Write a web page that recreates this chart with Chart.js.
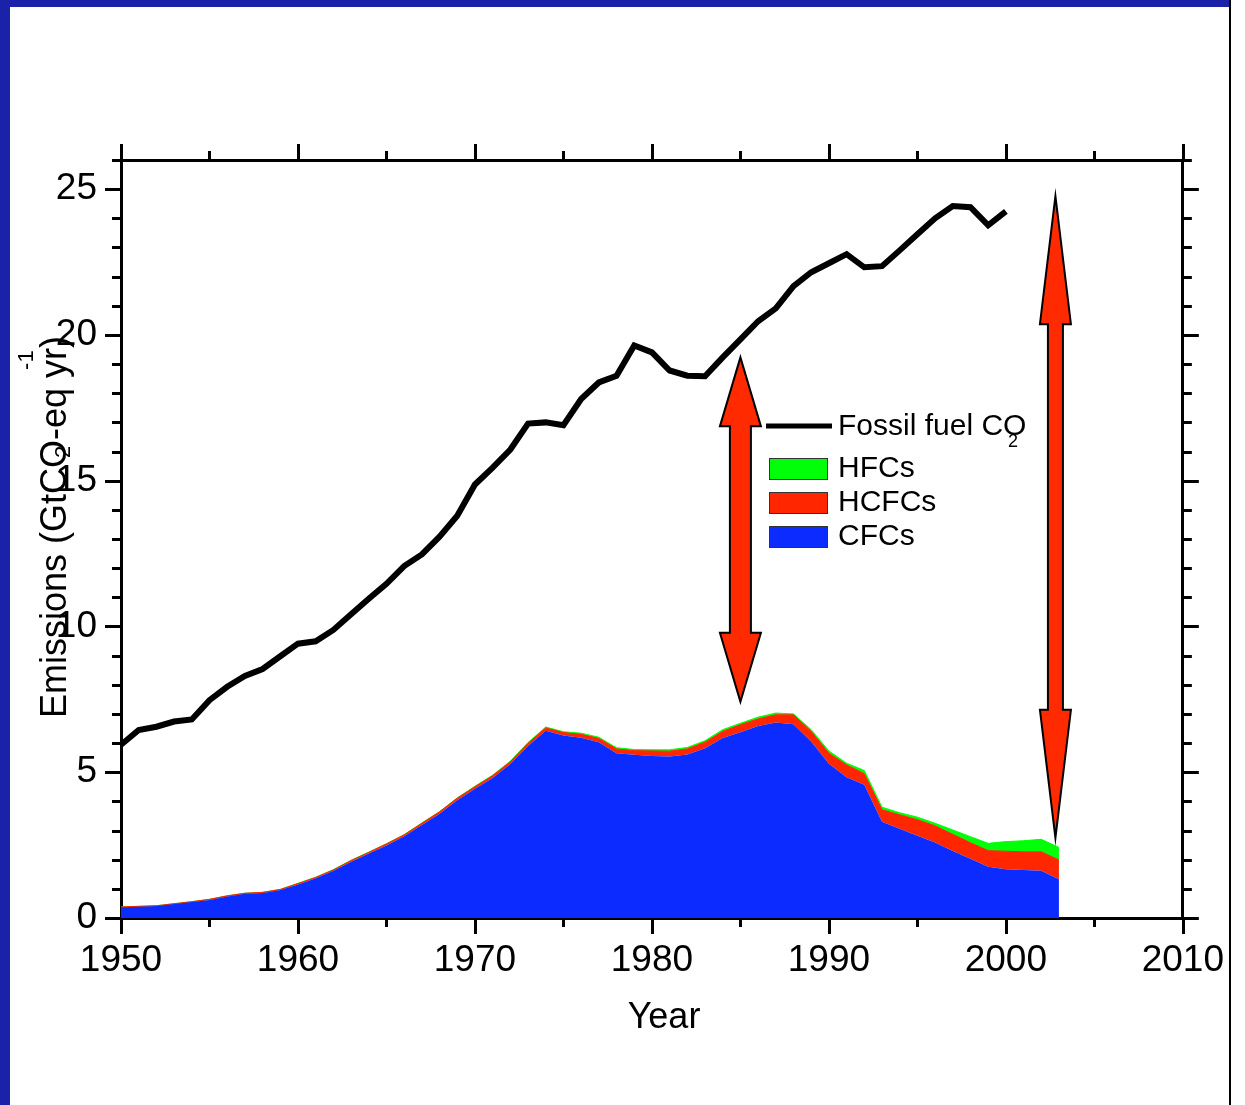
<!DOCTYPE html>
<html>
<head>
<meta charset="utf-8">
<script src="https://cdn.jsdelivr.net/npm/chart.js@4.4.1/dist/chart.umd.min.js"></script>
<style>
  html, body { margin: 0; padding: 0; background: #fff; }
  #wrap { position: relative; width: 1245px; height: 1105px; overflow: hidden; }
  .strip { position: absolute; background: #1b22aa; }
  #c { position: absolute; left: 0; top: 0; }
</style>
</head>
<body>
<div id="wrap">
  <div class="strip" style="left:0;top:0;width:10px;height:1105px;"></div>
  <div class="strip" style="left:0;top:0;width:1231px;height:7px;"></div>
  <div style="position:absolute;left:1229px;top:0;width:2px;height:1105px;background:#000;"></div>
  <canvas id="c" width="1245" height="1105"></canvas>
</div>
<script>
// Years of the stacked halocarbon areas (CO2 stops in 2000)
const years = [1950, 1951, 1952, 1953, 1954, 1955, 1956, 1957, 1958, 1959,
  1960, 1961, 1962, 1963, 1964, 1965, 1966, 1967, 1968, 1969,
  1970, 1971, 1972, 1973, 1974, 1975, 1976, 1977, 1978, 1979,
  1980, 1981, 1982, 1983, 1984, 1985, 1986, 1987, 1988, 1989,
  1990, 1991, 1992, 1993, 1994, 1995, 1996, 1997, 1998, 1999,
  2000, 2001, 2002, 2003];

// Fossil fuel CO2, GtCO2-eq/yr, 1950-2000
const co2 = [5.94, 6.45, 6.56, 6.74, 6.81, 7.47, 7.93, 8.30, 8.54, 8.98,
  9.41, 9.49, 9.88, 10.42, 10.95, 11.46, 12.07, 12.47, 13.08, 13.80,
  14.87, 15.45, 16.07, 16.96, 17.00, 16.90, 17.80, 18.37, 18.60, 19.64,
  19.40, 18.78, 18.60, 18.58, 19.23, 19.85, 20.47, 20.91, 21.67, 22.15,
  22.46, 22.77, 22.32, 22.36, 22.90, 23.45, 24.00, 24.42, 24.38, 23.76,
  24.24];

// Layers (not cumulative), 1950-2003
const cfc = [0.37, 0.39, 0.41, 0.48, 0.55, 0.62, 0.74, 0.83, 0.86, 0.96,
  1.15, 1.36, 1.62, 1.93, 2.21, 2.49, 2.80, 3.19, 3.58, 4.04,
  4.43, 4.80, 5.28, 5.90, 6.42, 6.26, 6.18, 6.03, 5.65, 5.60,
  5.56, 5.54, 5.61, 5.82, 6.17, 6.37, 6.59, 6.71, 6.65, 6.05,
  5.29, 4.83, 4.57, 3.30, 3.06, 2.82, 2.59, 2.30, 2.03, 1.76,
  1.67, 1.65, 1.62, 1.33];
const hcfc = [0.01, 0.01, 0.01, 0.01, 0.01, 0.02, 0.02, 0.02, 0.02, 0.02,
  0.03, 0.03, 0.03, 0.04, 0.04, 0.05, 0.05, 0.06, 0.06, 0.07,
  0.07, 0.08, 0.08, 0.09, 0.10, 0.10, 0.12, 0.13, 0.15, 0.14,
  0.17, 0.18, 0.19, 0.21, 0.23, 0.26, 0.24, 0.26, 0.32, 0.35,
  0.36, 0.42, 0.38, 0.41, 0.48, 0.55, 0.57, 0.57, 0.55, 0.55,
  0.62, 0.62, 0.65, 0.66];
const hfc = [0.00, 0.00, 0.00, 0.00, 0.00, 0.00, 0.00, 0.00, 0.00, 0.00,
  0.01, 0.01, 0.01, 0.01, 0.01, 0.01, 0.01, 0.01, 0.01, 0.01,
  0.02, 0.02, 0.02, 0.03, 0.03, 0.03, 0.04, 0.04, 0.04, 0.04,
  0.04, 0.05, 0.05, 0.05, 0.06, 0.05, 0.06, 0.06, 0.03, 0.06,
  0.08, 0.06, 0.11, 0.09, 0.07, 0.09, 0.09, 0.15, 0.21, 0.25,
  0.33, 0.38, 0.43, 0.43];

// Axis ticks
const xTicks = [1950, 1960, 1970, 1980, 1990, 2000, 2010];
const xMinorTicks = [1955, 1965, 1975, 1985, 1995, 2005];
const yTicks = [0, 5, 10, 15, 20, 25];
const yMinorTicks = [1, 2, 3, 4, 6, 7, 8, 9, 11, 12, 13, 14, 16, 17, 18, 19,
  21, 22, 23, 24, 26];

// Double-headed arrows: year, lower tip, upper tip
const arrowYears = [1985, 2002.8];
const arrowLow = [7.42, 2.75];
const arrowHigh = [19.23, 24.76];

const FONT = '"Liberation Sans", Arial, sans-serif';
const arrowStyles = [
  { shaft: 21, head: 41, headLen: 69 },
  { shaft: 15, head: 31, headLen: 128 }
];

function pts(vals) {
  return vals.map((v, i) => ({ x: years[i], y: v }));
}

function drawArrow(ctx, x, yTop, yBot, st) {
  const hw = st.head / 2, sw = st.shaft / 2, hl = st.headLen;
  ctx.beginPath();
  ctx.moveTo(x, yTop);
  ctx.lineTo(x + hw, yTop + hl);
  ctx.lineTo(x + sw, yTop + hl);
  ctx.lineTo(x + sw, yBot - hl);
  ctx.lineTo(x + hw, yBot - hl);
  ctx.lineTo(x, yBot);
  ctx.lineTo(x - hw, yBot - hl);
  ctx.lineTo(x - sw, yBot - hl);
  ctx.lineTo(x - sw, yTop + hl);
  ctx.lineTo(x - hw, yTop + hl);
  ctx.closePath();
  ctx.fillStyle = "#ff2a00";
  ctx.fill();
  ctx.lineWidth = 2;
  ctx.lineJoin = "miter";
  ctx.strokeStyle = "#000";
  ctx.stroke();
}

const decor = {
  id: "decor",
  afterDraw(chart) {
    const ctx = chart.ctx;
    const xs = chart.scales.x, ys = chart.scales.y;
    const a = chart.chartArea;
    ctx.save();

    // tick marks on all four sides, pointing outward
    ctx.strokeStyle = "#000";
    ctx.lineWidth = 3;
    ctx.beginPath();
    const tickX = (v, len) => {
      const px = Math.round(xs.getPixelForValue(v)) + 0.5;
      ctx.moveTo(px, a.bottom); ctx.lineTo(px, a.bottom + len);
      ctx.moveTo(px, a.top); ctx.lineTo(px, a.top - len);
    };
    const tickY = (v, len) => {
      const py = Math.round(ys.getPixelForValue(v)) + 0.5;
      ctx.moveTo(a.left, py); ctx.lineTo(a.left - len, py);
      ctx.moveTo(a.right, py); ctx.lineTo(a.right + len, py);
    };
    xTicks.forEach(v => tickX(v, 16));
    xMinorTicks.forEach(v => tickX(v, 9));
    yTicks.forEach(v => tickY(v, 16));
    yMinorTicks.forEach(v => tickY(v, 9));
    ctx.stroke();

    // arrows
    arrowYears.forEach((yr, i) => {
      drawArrow(ctx, xs.getPixelForValue(yr),
        ys.getPixelForValue(arrowHigh[i]), ys.getPixelForValue(arrowLow[i]),
        arrowStyles[i]);
    });

    // legend
    const ds = chart.data.datasets;
    ctx.fillStyle = "#000";
    ctx.textAlign = "left";
    ctx.textBaseline = "alphabetic";
    ctx.strokeStyle = ds[0].borderColor;
    ctx.lineWidth = 5;
    ctx.beginPath();
    ctx.moveTo(766, 426); ctx.lineTo(832, 426);
    ctx.stroke();
    ctx.font = "30px " + FONT;
    ctx.fillText(ds[0].label, 838, 435);
    ctx.font = "18px " + FONT;
    ctx.fillText("2", 1008, 447);
    ctx.font = "30px " + FONT;
    [3, 2, 1].forEach((k, i) => {
      const top = 458 + i * 34;
      ctx.fillStyle = ds[k].backgroundColor;
      ctx.fillRect(769, top, 59, 21);
      ctx.strokeStyle = "#333";
      ctx.lineWidth = 1;
      ctx.strokeRect(769.5, top + 0.5, 58, 21);
      ctx.fillStyle = "#000";
      ctx.fillText(ds[k].label, 838, top + 19);
    });

    // x title
    ctx.font = "36px " + FONT;
    ctx.textAlign = "center";
    ctx.fillText("Year", 664, 1028);

    // y title (rotated)
    ctx.translate(66, 718);
    ctx.rotate(-Math.PI / 2);
    ctx.textAlign = "left";
    const p1 = "Emissions (GtCO", p2 = "-eq yr", p3 = ")";
    ctx.fillText(p1, 0, 0);
    const w1 = ctx.measureText(p1).width;
    ctx.fillText(p2, w1, 0);
    const w2 = ctx.measureText(p2).width;
    ctx.fillText(p3, w1 + w2, 0);
    ctx.font = "22px " + FONT;
    ctx.fillText("2", w1 - 18, 4);
    ctx.fillText("-1", w1 + w2 - 22, -33);
    ctx.restore();
  }
};

new Chart(document.getElementById("c"), {
  type: "line",
  data: {
    datasets: [
      {
        label: "Fossil fuel CO",
        data: co2.map((v, i) => ({ x: years[i], y: v })),
        stack: "co2",
        borderColor: "#000",
        borderWidth: 6,
        borderJoinStyle: "miter",
        fill: false,
        pointRadius: 0,
        tension: 0
      },
      {
        label: "CFCs",
        data: pts(cfc),
        stack: "gases",
        backgroundColor: "#0c2cff",
        borderColor: "#0c2cff",
        borderWidth: 0,
        fill: "origin",
        pointRadius: 0,
        tension: 0
      },
      {
        label: "HCFCs",
        data: pts(hcfc),
        stack: "gases",
        backgroundColor: "#ff2600",
        borderColor: "#ff2600",
        borderWidth: 1,
        fill: "-1",
        pointRadius: 0,
        tension: 0
      },
      {
        label: "HFCs",
        data: pts(hfc),
        stack: "gases",
        backgroundColor: "#00ff08",
        borderColor: "#00ff08",
        borderWidth: 1,
        fill: "-1",
        pointRadius: 0,
        tension: 0
      }
    ]
  },
  options: {
    responsive: false,
    animation: false,
    devicePixelRatio: 1,
    layout: { padding: 0 },
    plugins: { legend: { display: false }, tooltip: { enabled: false } },
    scales: {
      x: {
        type: "linear", min: 1950, max: 2010, position: "bottom",
        grid: { display: false, drawTicks: false },
        border: { display: true, color: "#000", width: 3 },
        afterBuildTicks: s => { s.ticks = xTicks.map(v => ({ value: v })); },
        afterFit: s => { s.height = 1105 - 918; },
        ticks: {
          autoSkip: false, maxRotation: 0, padding: 21, color: "#000",
          font: { family: FONT, size: 37 },
          callback: v => String(v)
        }
      },
      x2: {
        type: "linear", min: 1950, max: 2010, position: "top",
        grid: { display: false, drawTicks: false },
        border: { display: true, color: "#000", width: 3 },
        ticks: { display: false },
        afterFit: s => { s.height = 160; }
      },
      y: {
        type: "linear", stacked: true, min: 0, max: 26, position: "left",
        grid: { display: false, drawTicks: false },
        border: { display: true, color: "#000", width: 3 },
        afterBuildTicks: s => { s.ticks = yTicks.map(v => ({ value: v })); },
        afterFit: s => { s.width = 121; },
        ticks: {
          padding: 24, color: "#000",
          font: { family: FONT, size: 37 },
          callback: v => String(v)
        }
      },
      y2: {
        type: "linear", min: 0, max: 26, position: "right",
        grid: { display: false, drawTicks: false },
        border: { display: true, color: "#000", width: 3 },
        ticks: { display: false },
        afterFit: s => { s.width = 1245 - 1183; }
      }
    }
  },
  plugins: [decor]
});
</script>
</body>
</html>
